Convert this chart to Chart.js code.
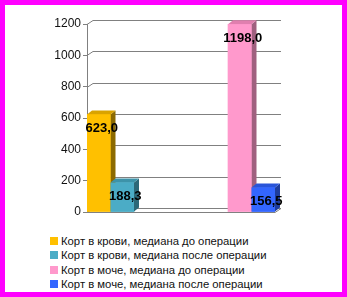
<!DOCTYPE html>
<html>
<head>
<meta charset="utf-8">
<script src="https://cdn.jsdelivr.net/npm/chart.js@4/dist/chart.umd.min.js"></script>
<style>
  html, body { margin: 0; padding: 0; background: #fff; }
  #frame { position: relative; width: 347px; height: 297px; box-sizing: border-box; border: 5px solid #ff00ff; background: #fff; overflow: hidden; }
  #wrap { position: absolute; left: -5px; top: -5px; width: 347px; height: 230px; }
  #legend { position: absolute; left: 45px; top: 229px; font: 11.3px "Liberation Sans", Arial, sans-serif; color: #111; }
  .li { height: 14.3px; line-height: 14.3px; white-space: nowrap; display: flex; align-items: center; }
  .sw { width: 8px; height: 8px; margin-right: 3px; display: inline-block; }
</style>
</head>
<body>
<div id="frame">
  <div id="wrap"><canvas id="c"></canvas></div>
  <div id="legend"></div>
</div>
<script>
// ---- data ----
const categories = ["Корт в крови", "Корт в моче"];
const seriesNames = [
  "Корт в крови, медиана до операции",
  "Корт в крови, медиана после операции",
  "Корт в моче, медиана до операции",
  "Корт в моче, медиана после операции"
];
const bloodBefore = [623.0, null];
const bloodAfter  = [188.3, null];
const urineBefore = [null, 1198.0];
const urineAfter  = [null, 156.5];
const yTicks = [0, 200, 400, 600, 800, 1000, 1200];

const frontColors = ["#FFC000", "#4BACC6", "#FF99CC", "#3366FF"];
const sideColors  = ["#8C6A00", "#2C6878", "#A0607F", "#1E3D9E"];
const topColors   = ["#D9A300", "#3D93A9", "#E07FAF", "#2A55D8"];

const DX = 5, DY = 4;     // bar depth
const GDX = 6, GDY = 4;   // grid depth

const fontFam = '"Liberation Sans", Arial, sans-serif';

const threeD = {
  id: 'threeD',
  beforeDatasetsDraw(chart) {
    const ctx = chart.ctx, y = chart.scales.y, a = chart.chartArea;
    ctx.save();
    ctx.strokeStyle = '#808080';
    ctx.lineWidth = 1;
    yTicks.forEach(v => {
      const py = Math.round(y.getPixelForValue(v)) + 0.5;
      ctx.beginPath();
      ctx.moveTo(a.left, py);
      ctx.lineTo(a.left + GDX, py - GDY);
      ctx.lineTo(a.right + GDX, py - GDY);
      ctx.stroke();
    });
    const p0 = Math.round(y.getPixelForValue(0)) + 0.5;
    ctx.beginPath();
    ctx.moveTo(a.left, p0);
    ctx.lineTo(a.right, p0);
    ctx.lineTo(a.right + GDX, p0 - GDY);
    ctx.stroke();
    ctx.restore();
  },
  afterDatasetsDraw(chart) {
    const ctx = chart.ctx;
    const bars = [];
    chart.data.datasets.forEach((ds, di) => {
      const meta = chart.getDatasetMeta(di);
      meta.data.forEach((el, i) => {
        if (ds.data[i] == null) return;
        bars.push({ el, di, v: ds.data[i] });
      });
    });
    bars.sort((p, q) => p.el.x - q.el.x);
    ctx.save();
    bars.forEach(({ el, di }) => {
      const l = el.x - el.width / 2, r = el.x + el.width / 2, t = el.y, b = el.base;
      ctx.fillStyle = sideColors[di];
      ctx.beginPath();
      ctx.moveTo(r, t); ctx.lineTo(r + DX, t - DY); ctx.lineTo(r + DX, b - DY); ctx.lineTo(r, b); ctx.closePath();
      ctx.fill();
      ctx.fillStyle = topColors[di];
      ctx.beginPath();
      ctx.moveTo(l, t); ctx.lineTo(l + DX, t - DY); ctx.lineTo(r + DX, t - DY); ctx.lineTo(r, t); ctx.closePath();
      ctx.fill();
      ctx.fillStyle = frontColors[di];
      ctx.fillRect(l, t, r - l, b - t);
    });
    ctx.fillStyle = '#000';
    ctx.font = 'bold 13px ' + fontFam;
    ctx.textAlign = 'center';
    ctx.textBaseline = 'middle';
    bars.forEach(({ el, v }) => {
      ctx.fillText(v.toFixed(1).replace('.', ','), el.x + 3, el.y + 14);
    });
    ctx.restore();
  }
};

const data = {
  labels: categories,
  datasets: [bloodBefore, bloodAfter, urineBefore, urineAfter].map((d, i) => ({
    label: seriesNames[i],
    data: d,
    backgroundColor: frontColors[i],
    borderWidth: 0,
    barPercentage: 1,
    categoryPercentage: 1
  }))
};

new Chart(document.getElementById('c'), {
  type: 'bar',
  data,
  options: {
    responsive: true,
    maintainAspectRatio: false,
    animation: false,
    events: [],
    layout: { padding: { left: 0, right: 72, top: 24, bottom: 18 } },
    plugins: { legend: { display: false }, tooltip: { enabled: false } },
    scales: {
      x: { display: false, grid: { display: false } },
      y: {
        min: 0, max: 1200,
        afterFit(s) { s.width = 87; },
        afterBuildTicks(s) { s.ticks = yTicks.map(v => ({ value: v })); },
        ticks: { color: '#111', padding: 2, font: { family: fontFam, size: 12 }, callback: v => String(v) },
        grid: { drawOnChartArea: false, tickLength: 4, color: '#808080' },
        border: { color: '#808080' }
      }
    }
  },
  plugins: [threeD]
});

const lg = document.getElementById('legend');
seriesNames.forEach((n, i) => {
  const row = document.createElement('div');
  row.className = 'li';
  const sw = document.createElement('span');
  sw.className = 'sw';
  sw.style.background = frontColors[i];
  row.appendChild(sw);
  row.appendChild(document.createTextNode(n));
  lg.appendChild(row);
});
</script>
</body>
</html>
